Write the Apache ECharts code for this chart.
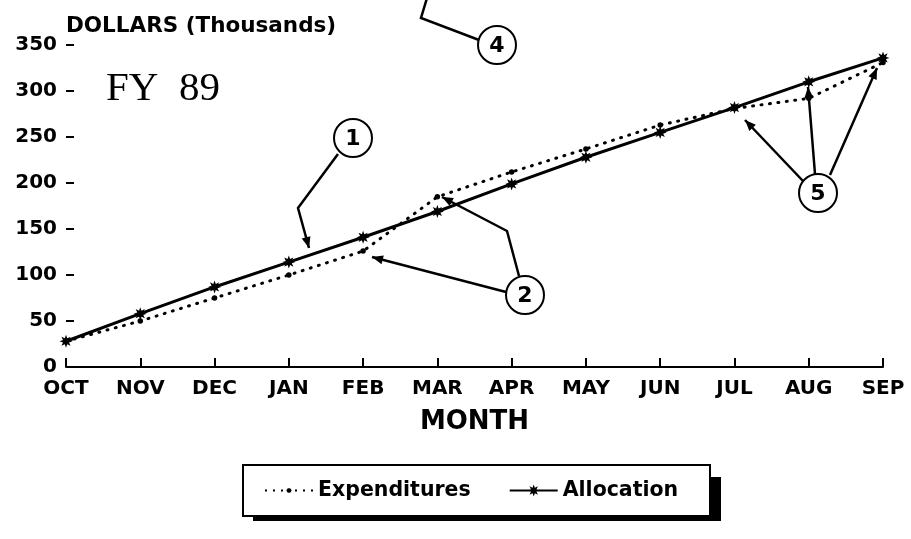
<!DOCTYPE html>
<html>
<head>
<meta charset="utf-8">
<script src="https://cdn.jsdelivr.net/npm/echarts@6/dist/echarts.min.js"></script>
<style>
html,body{margin:0;padding:0;background:#fff;}
#chart{width:911px;height:539px;}
</style>
</head>
<body>
<div id="chart"></div>
<script>
// ---- data ----
const months = ['OCT','NOV','DEC','JAN','FEB','MAR','APR','MAY','JUN','JUL','AUG','SEP'];
const expenditures = [28, 50, 75, 100, 126, 185, 212, 237, 263, 281, 292, 331];
const allocation = [28, 58, 87, 114, 141, 169, 199, 228, 255, 282, 310, 336];
const yTicks = [0, 50, 100, 150, 200, 250, 300, 350];
const seriesNames = ['Expenditures', 'Allocation'];
const yAxisTitle = 'DOLLARS (Thousands)';
const xAxisTitle = 'MONTH';
const subtitle = 'FY  89';

// ---- styling helpers ----
const FONT = 'DejaVu Sans';
function starPoints(cx, cy, R, r){
  let p = [];
  for (let k = 0; k < 16; k++) {
    const a = k * Math.PI / 8;
    const rr = (k % 2 === 0) ? R : r;
    p.push((cx + rr*Math.cos(a)).toFixed(2) + ',' + (cy + rr*Math.sin(a)).toFixed(2));
  }
  return 'M' + p.join(' L') + ' Z';
}
const starSymbol = 'path://' + starPoints(0, 0, 10, 5);
// legend icons (48 x 12 boxes)
function sq(cx, cy, h){ return 'M'+(cx-h)+','+(cy-h)+' L'+(cx+h)+','+(cy-h)+' L'+(cx+h)+','+(cy+h)+' L'+(cx-h)+','+(cy+h)+' Z '; }
const expIcon = 'path://' + [1,9,17,31,39,47].map(x => sq(x, 6, 1)).join('') + starPoints(24, 6, 2.6, 2.3);
const allocIcon = 'path://M0,5 L48,5 L48,7 L0,7 Z ' + starPoints(24, 6, 6, 3);

const chart = echarts.init(document.getElementById('chart'), null, {renderer:'canvas'});

// annotation callouts (pixel layout)
const callouts = [
  {n:'1', c:[353,138]},
  {n:'2', c:[525,295]},
  {n:'4', c:[497,45]},
  {n:'5', c:[818,193]}
];
const arrows = [
  {pts:[[338,154],[298,208],[309,248]], head:true},
  {pts:[[506,292],[372,257]], head:true},
  {pts:[[519,276],[507,231],[442,197]], head:true},
  {pts:[[479,40],[421,18],[427,-2]], head:false},
  {pts:[[803,181],[745,120]], head:true},
  {pts:[[815,174],[808,87]], head:true},
  {pts:[[830,175],[877,68]], head:true}
];

const graphics = [];
arrows.forEach(a => {
  graphics.push({type:'polyline', z:10, shape:{points:a.pts}, style:{stroke:'#000', lineWidth:2.5, fill:null}});
  if (a.head) {
    const p1 = a.pts[a.pts.length-2], p2 = a.pts[a.pts.length-1];
    const dx = p2[0]-p1[0], dy = p2[1]-p1[1], L = Math.hypot(dx,dy);
    const ux = dx/L, uy = dy/L, len = 11, hw = 4.5;
    const bx = p2[0]-ux*len, by = p2[1]-uy*len;
    graphics.push({type:'polygon', z:10, shape:{points:[[p2[0],p2[1]],[bx-uy*hw,by+ux*hw],[bx+uy*hw,by-ux*hw]]}, style:{fill:'#000'}});
  }
});
callouts.forEach(c => {
  graphics.push({type:'circle', z:11, shape:{cx:c.c[0], cy:c.c[1], r:19}, style:{fill:'#fff', stroke:'#000', lineWidth:2}});
  graphics.push({type:'text', z:12, x:c.c[0], y:c.c[1]+1, style:{text:c.n, fill:'#000', font:'bold 22px "DejaVu Sans"', align:'center', verticalAlign:'middle'}});
});
graphics.push({type:'text', z:12, left:106, top:69, style:{text:subtitle, fill:'#000', font:'41px "Liberation Serif"'}});
// legend frame with hard drop shadow
graphics.push({type:'rect', z:0, shape:{x:253, y:477, width:468, height:44}, style:{fill:'#000'}});
graphics.push({type:'rect', z:1, shape:{x:243, y:465, width:467, height:51}, style:{fill:'#fff', stroke:'#000', lineWidth:2}});

const option = {
  backgroundColor:'#fff',
  animation:false,
  grid:{left:66, right:28, top:45, bottom:172, containLabel:false},
  xAxis:{
    type:'category', data:months, boundaryGap:false,
    name:xAxisTitle, nameLocation:'middle', nameGap:42,
    nameTextStyle:{fontFamily:FONT, fontWeight:'bold', fontSize:26, color:'#000'},
    axisLine:{lineStyle:{color:'#000', width:2}},
    axisTick:{inside:true, length:9, lineStyle:{color:'#000', width:2}},
    axisLabel:{fontFamily:FONT, fontWeight:'bold', fontSize:20, color:'#000', margin:12},
    splitLine:{show:false}
  },
  yAxis:{
    type:'value', min:0, max:350, interval:50,
    name:yAxisTitle, nameLocation:'end', nameGap:8,
    nameTextStyle:{fontFamily:FONT, fontWeight:'bold', fontSize:21.5, color:'#000', align:'left'},
    axisLine:{show:false},
    axisTick:{show:true, inside:true, length:8, lineStyle:{color:'#000', width:2}},
    axisLabel:{fontFamily:FONT, fontWeight:'bold', fontSize:20, color:'#000', margin:9,
      formatter: v => yTicks.indexOf(v) >= 0 ? String(v) : ''},
    splitLine:{show:false}
  },
  legend:{
    left:265, top:480, z:5,
    orient:'horizontal',
    data:[{name:seriesNames[0], icon:expIcon}, {name:seriesNames[1], icon:allocIcon}],
    itemWidth:48, itemHeight:12, itemGap:39,
    symbolKeepAspect:true,
    padding:0,
    textStyle:{fontFamily:FONT, fontWeight:'bold', fontSize:20.5, color:'#000'}
  },
  series:[
    {
      name:seriesNames[0], type:'line', data:expenditures,
      symbol:'circle', symbolSize:5.5, showSymbol:true,
      itemStyle:{color:'#000'},
      lineStyle:{color:'#000', width:3, type:[1,7.5], cap:'round'},
      z:3
    },
    {
      name:seriesNames[1], type:'line', data:allocation,
      symbol:starSymbol, symbolSize:13, showSymbol:true,
      itemStyle:{color:'#000'},
      lineStyle:{color:'#000', width:3, type:'solid'},
      z:4
    }
  ],
  graphic:graphics
};
chart.setOption(option);
</script>
</body>
</html>
